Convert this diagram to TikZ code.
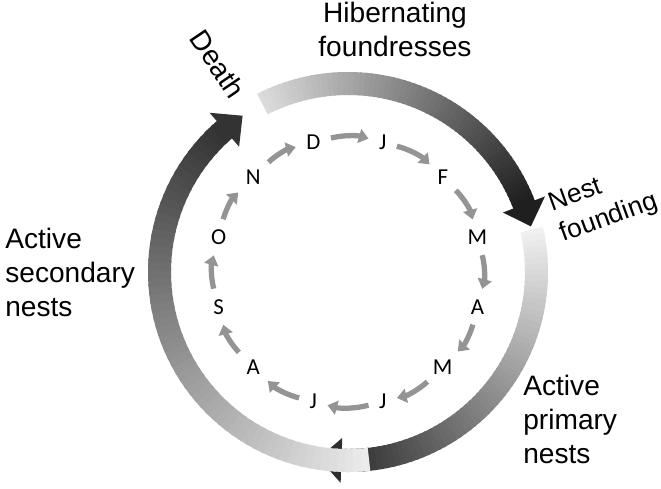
\documentclass[tikz,border=0pt]{standalone}
\usepackage{fontspec}
\setmainfont{Liberation Sans}
\newfontfamily\monthfont{Carlito}
\usetikzlibrary{arrows.meta, math}

\tikzset{
  label text/.style={font=\fontsize{16}{19.3}\selectfont, inner sep=0pt},
  month/.style={font=\monthfont\fontsize{13}{15}\selectfont, inner sep=0pt},
  month arrow/.style={draw=black!42, line width=3pt, -{Triangle[length=5.5pt,width=8pt]}, shorten <=6pt, shorten >=6pt}
}

\begin{document}
\begin{tikzpicture}[x=0.02cm, y=0.02cm]
\tikzmath{
\rin=177;
\rout=200;
\rmid=188.5;
\hw=11;
\hl=7;
\rmon=134;
}
\useasboundingbox (-348,-216) rectangle (313,272);

% outer ring: three shaded arcs with heads
\foreach \arcA/\arcB/\colA/\colB in {117/21/14/88, 13/-92/6/82, 276.4/131/8/80}{
  \foreach \i in {0,...,59}{
    \pgfmathsetmacro\sa{\arcA+(\arcB-\arcA)*\i/60}
    \pgfmathsetmacro\ea{\arcA+(\arcB-\arcA)*(\i+1.4)/60}
    \pgfmathsetmacro\col{\colA+(\colB-\colA)*\i/59}
    \fill[black!\col] (\sa:\rin) arc (\sa:\ea:\rin) -- (\ea:\rout) arc (\ea:\sa:\rout) -- cycle;
  }
  \fill[black!\colB] ({\arcB}:{\rin-\hw}) -- ({\arcB}:{\rout+\hw}) -- ({\arcB-\hl}:\rmid) -- cycle;
}

% months
\foreach \m [count=\k] in {D,J,F,M,A,M,J,J,A,S,O,N}{
  \node[month] (m\k) at ({105-30*(\k-1)}:\rmon) {\m};
}
\foreach \k [remember=\k as \prev (initially 12)] in {1,...,12}{
  \draw[month arrow] (m\prev) to[bend left=15] (m\k);
}

% labels
\node[label text, anchor=north, align=center] (hib) at (47,270) {Hibernating\\foundresses};
\node[label text, font=\fontsize{15}{18.5}\selectfont, anchor=north west, align=left, rotate=20] (nest) at (198,78) {Nest\\founding};
\node[label text, anchor=north west, align=left] (prim) at (175,-103) {Active\\primary\\nests};
\node[label text, anchor=north west, align=left] (sec) at (-343,44) {Active\\secondary\\nests};
\node[label text, rotate=-56] (death) at (-130,208) {Death};
\end{tikzpicture}
\end{document}
